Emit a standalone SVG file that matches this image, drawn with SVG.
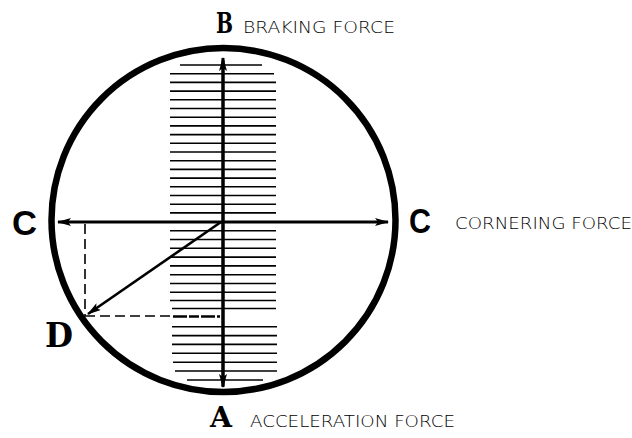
<svg xmlns="http://www.w3.org/2000/svg" width="632" height="438" viewBox="0 0 632 438">
<defs>
<style>
.hatch line{stroke:#000;stroke-width:1.6}
.big{font-family:"DejaVu Serif","Liberation Serif",serif;font-weight:bold;fill:#000}
.cl{font-family:"Liberation Sans","Noto Sans",sans-serif;font-weight:bold;fill:#000}
.lbl{font-family:"DejaVu Sans","Liberation Sans",sans-serif;font-weight:200;fill:#000}
.axis{stroke:#000;stroke-width:3;fill:none}
.dash{stroke:#000;stroke-width:1.6;fill:none;stroke-dasharray:10 5}
</style>
<marker id="ah" markerWidth="14" markerHeight="8" refX="13" refY="4" orient="auto" markerUnits="userSpaceOnUse">
<path d="M0,0 L14,4 L0,8 L3,4 Z" fill="#000"/>
</marker>
</defs>
<rect width="632" height="438" fill="#fff"/>
<g id="hatching" class="hatch">
<line x1="180" y1="65" x2="262" y2="65"/>
<line x1="170" y1="73.7" x2="274" y2="73.7"/>
<line x1="170" y1="82.4" x2="276" y2="82.4"/>
<line x1="170" y1="91.1" x2="276" y2="91.1"/>
<line x1="170" y1="99.8" x2="276" y2="99.8"/>
<line x1="170" y1="108.5" x2="276" y2="108.5"/>
<line x1="170" y1="117.2" x2="276" y2="117.2"/>
<line x1="170" y1="125.9" x2="276" y2="125.9"/>
<line x1="170" y1="134.6" x2="276" y2="134.6"/>
<line x1="170" y1="143.3" x2="276" y2="143.3"/>
<line x1="170" y1="152" x2="276" y2="152"/>
<line x1="170" y1="160.7" x2="276" y2="160.7"/>
<line x1="170" y1="169.4" x2="276" y2="169.4"/>
<line x1="170" y1="178.1" x2="276" y2="178.1"/>
<line x1="170" y1="186.8" x2="276" y2="186.8"/>
<line x1="170" y1="195.5" x2="276" y2="195.5"/>
<line x1="170" y1="204.2" x2="276" y2="204.2"/>
<line x1="170" y1="212.9" x2="276" y2="212.9"/>
<line x1="170" y1="230.7" x2="276" y2="230.7"/>
<line x1="170" y1="239.5" x2="276" y2="239.5"/>
<line x1="170" y1="248.3" x2="276" y2="248.3"/>
<line x1="170" y1="257.1" x2="276" y2="257.1"/>
<line x1="170" y1="265.9" x2="276" y2="265.9"/>
<line x1="170" y1="274.7" x2="276" y2="274.7"/>
<line x1="170" y1="283.5" x2="276" y2="283.5"/>
<line x1="170" y1="292.3" x2="276" y2="292.3"/>
<line x1="170" y1="300.5" x2="276" y2="300.5"/>
<line x1="172" y1="308.5" x2="276" y2="308.5"/>
<line x1="172" y1="326.7" x2="277" y2="326.7"/>
<line x1="172" y1="335.6" x2="277" y2="335.6"/>
<line x1="172" y1="344.4" x2="277" y2="344.4"/>
<line x1="172" y1="353.3" x2="277" y2="353.3"/>
<line x1="173" y1="362.2" x2="277" y2="362.2"/>
<line x1="175" y1="371" x2="277" y2="371"/>
<line x1="187" y1="380" x2="263" y2="380"/>
</g>
<g id="circle">
<circle cx="223.5" cy="220" r="172" fill="none" stroke="#000" stroke-width="6.5"/>
</g>
<g id="connectors">
<line class="axis" x1="223" y1="386" x2="223" y2="58" marker-end="url(#ah)"/>
<line class="axis" x1="223" y1="60" x2="223" y2="387" marker-end="url(#ah)"/>
<line class="axis" x1="223" y1="222" x2="58" y2="222" marker-end="url(#ah)"/>
<line class="axis" x1="223" y1="222" x2="388" y2="222" marker-end="url(#ah)"/>
<line x1="221" y1="222" x2="88" y2="314" stroke="#000" stroke-width="2.6" marker-end="url(#ah)"/>
<line class="dash" x1="85" y1="224" x2="85" y2="316"/>
<line class="dash" x1="85" y1="316" x2="170" y2="316"/>
<line x1="173" y1="316.5" x2="220" y2="316.5" stroke="#000" stroke-width="2.6" stroke-dasharray="14 2 10 2"/>
</g>
<g id="node-B">
<text class="big" x="224.5" y="33" font-size="27" text-anchor="middle" textLength="17" lengthAdjust="spacingAndGlyphs">B</text>
<text class="lbl" x="243" y="33" font-size="15.5" textLength="152" lengthAdjust="spacingAndGlyphs">BRAKING FORCE</text>
</g>
<g id="node-A">
<text class="big" x="221" y="427" font-size="27" text-anchor="middle" textLength="22" lengthAdjust="spacingAndGlyphs">A</text>
<text class="lbl" x="250" y="427" font-size="16.5" textLength="205" lengthAdjust="spacingAndGlyphs">ACCELERATION FORCE</text>
</g>
<g id="node-C-left">
<text class="cl" x="24.5" y="235" font-size="35" text-anchor="middle" textLength="25" lengthAdjust="spacingAndGlyphs">C</text>
</g>
<g id="node-C-right">
<text class="cl" x="420" y="233" font-size="35" text-anchor="middle" textLength="22" lengthAdjust="spacingAndGlyphs">C</text>
<text class="lbl" x="455" y="229" font-size="16.5" textLength="177" lengthAdjust="spacingAndGlyphs">CORNERING FORCE</text>
</g>
<g id="node-D">
<text class="big" x="59" y="347" font-size="34" text-anchor="middle" textLength="28" lengthAdjust="spacingAndGlyphs">D</text>
</g>
</svg>
